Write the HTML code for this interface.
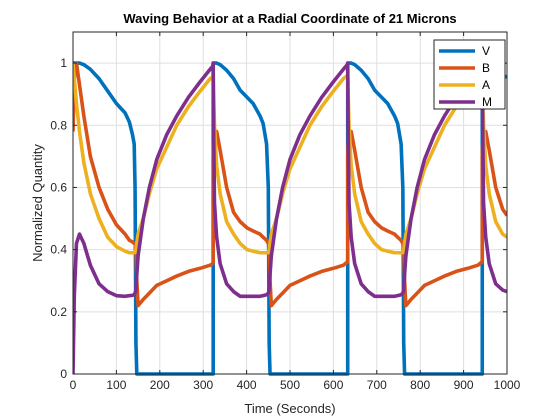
<!DOCTYPE html>
<html><head><meta charset="utf-8"><style>
html,body{margin:0;padding:0;background:#fff;}
svg{display:block;font-family:"Liberation Sans",Arial,sans-serif;}
</style></head><body>
<svg id="chart" width="560" height="420" viewBox="0 0 560 420"></svg>
<script>
const xTicks=[0,100,200,300,400,500,600,700,800,900,1000];
const yTicks=[0,0.2,0.4,0.6,0.8,1];
const yTickLabels=["0","0.2","0.4","0.6","0.8","1"];
const seriesNames=["V","B","A","M"];
const times=[0,3,8,15,25,40,60,80,100,120,130,137,141,143,145,147,150,162,176,193,216,239,266,293,316,322,
323,323,324,326,331,339,354,370,385,401,415,431,438,446,450,452,454,457,469,483,500,523,546,573,600,623,632,
633,633,634,636,641,649,664,680,695,711,725,741,748,756,760,762,764,767,779,793,810,833,856,883,910,933,942,
943,943,944,946,951,959,974,990,1000];
const vValues=[1,1,1,1,0.995,0.98,0.95,0.91,0.87,0.84,0.81,0.77,0.74,0.6,0.1,0,0,0,0,0,0,0,0,0,0,0,
0,1,1,1,1,0.995,0.977,0.95,0.913,0.89,0.87,0.83,0.806,0.74,0.6,0.1,0,0,0,0,0,0,0,0,0,0,0,
0,1,1,1,1,0.995,0.977,0.95,0.913,0.89,0.87,0.83,0.806,0.74,0.6,0.1,0,0,0,0,0,0,0,0,0,0,0,
0,1,1,1,1,0.995,0.977,0.96,0.955];
const bValues=[0.78,0.95,1.0,0.93,0.83,0.7,0.6,0.53,0.48,0.45,0.43,0.425,0.42,0.42,0.41,0.3,0.22,0.24,0.26,0.285,0.3,0.315,0.33,0.34,0.35,0.355,
0.36,0.7,0.74,0.77,0.78,0.72,0.6,0.52,0.49,0.47,0.46,0.45,0.44,0.43,0.42,0.41,0.3,0.22,0.24,0.26,0.285,0.3,0.315,0.33,0.34,0.35,0.36,
0.36,0.7,0.74,0.77,0.78,0.72,0.6,0.52,0.49,0.47,0.46,0.45,0.44,0.43,0.42,0.41,0.3,0.22,0.24,0.26,0.285,0.3,0.315,0.33,0.34,0.35,0.36,
0.36,0.7,0.74,0.77,0.78,0.72,0.6,0.53,0.51];
const aValues=[1.0,0.95,0.87,0.78,0.68,0.58,0.5,0.44,0.41,0.395,0.39,0.39,0.39,0.39,0.40,0.42,0.45,0.5,0.58,0.66,0.73,0.8,0.86,0.91,0.95,0.955,
0.96,0.96,0.9,0.8,0.67,0.58,0.49,0.45,0.42,0.40,0.395,0.39,0.39,0.39,0.39,0.40,0.42,0.45,0.5,0.58,0.66,0.73,0.8,0.86,0.91,0.95,0.96,
0.96,0.96,0.9,0.8,0.67,0.58,0.49,0.45,0.42,0.40,0.395,0.39,0.39,0.39,0.39,0.40,0.42,0.45,0.5,0.58,0.66,0.73,0.8,0.86,0.91,0.95,0.96,
0.96,0.96,0.9,0.8,0.67,0.58,0.49,0.45,0.44];
const mValues=[0,0.25,0.42,0.45,0.42,0.35,0.29,0.265,0.252,0.25,0.252,0.253,0.255,0.26,0.27,0.32,0.38,0.5,0.6,0.69,0.77,0.83,0.89,0.94,0.98,0.99,
1.0,1.0,0.8,0.55,0.44,0.355,0.29,0.265,0.25,0.25,0.25,0.25,0.252,0.255,0.26,0.27,0.32,0.38,0.5,0.6,0.69,0.77,0.83,0.89,0.94,0.98,0.995,
1.0,1.0,0.8,0.55,0.44,0.355,0.29,0.265,0.25,0.25,0.25,0.25,0.252,0.255,0.26,0.27,0.32,0.38,0.5,0.6,0.69,0.77,0.83,0.89,0.94,0.98,0.995,
1.0,1.0,0.8,0.55,0.44,0.355,0.29,0.27,0.265];

const L=73,R=507,T=32,B=374;
const X=v=>L+(v/1000)*(R-L);
const Y=v=>B-(v/1.1)*(B-T);
const NS="http://www.w3.org/2000/svg";
const svg=document.getElementById('chart');
function mk(tag,attrs,parent){const e=document.createElementNS(NS,tag);for(const k in attrs)e.setAttribute(k,attrs[k]);(parent||svg).appendChild(e);return e;}

const bg=mk('rect',{x:L,y:T,width:R-L,height:B-T,fill:'#fff'});


const grid=mk('g',{stroke:'#dfdfdf','stroke-width':1});


xTicks.forEach(t=>{mk('line',{x1:X(t),x2:X(t),y1:T,y2:B},grid);});
yTicks.forEach(t=>{mk('line',{x1:L,x2:R,y1:Y(t),y2:Y(t)},grid);});

const colors=["#0072BD","#D95319","#EDB120","#7E2F8E"];
const allVals=[vValues,bValues,aValues,mValues];
const clip=mk('clipPath',{id:'clp'});mk('rect',{x:L,y:T-2,width:R-L,height:B-T+4},clip);
allVals.forEach((vals,i)=>{
  const d=times.map((t,j)=>(j?'L':'M')+X(t).toFixed(2)+' '+Y(vals[j]).toFixed(2)).join(' ');
  const p=mk('path',{d:d,fill:'none',stroke:colors[i],'stroke-width':3.6,'stroke-linejoin':'round','clip-path':'url(#clp)'});
  
  
});

const axes=mk('g',{stroke:'#262626','stroke-width':1,fill:'none'});


mk('rect',{x:L,y:T,width:R-L,height:B-T},axes);
xTicks.forEach(t=>{mk('line',{x1:X(t),x2:X(t),y1:B,y2:B-4},axes);mk('line',{x1:X(t),x2:X(t),y1:T,y2:T+4},axes);});
yTicks.forEach(t=>{mk('line',{x1:L,x2:L+4,y1:Y(t),y2:Y(t)},axes);mk('line',{x1:R,x2:R-4,y1:Y(t),y2:Y(t)},axes);});

xTicks.forEach(t=>{const e=mk('text',{x:X(t),y:B+15,'text-anchor':'middle','font-size':12,fill:'#262626'});e.textContent=String(t);
  
  });
yTicks.forEach((t,i)=>{const e=mk('text',{x:L-6,y:Y(t)+4,'text-anchor':'end','font-size':12,fill:'#262626'});e.textContent=yTickLabels[i];
  
  });

const title=mk('text',{x:(L+R)/2,y:23,'text-anchor':'middle','font-size':13,'font-weight':'bold',fill:'#000'});
title.textContent='Waving Behavior at a Radial Coordinate of 21 Microns';


const xl=mk('text',{x:(L+R)/2,y:413,'text-anchor':'middle','font-size':13,fill:'#262626'});
xl.textContent='Time (Seconds)';


const yl=mk('text',{x:0,y:0,'text-anchor':'middle','font-size':13,fill:'#262626',transform:'translate(42,'+((T+B)/2)+') rotate(-90)'});
yl.textContent='Normalized Quantity';



const lg=mk('g',{});


mk('rect',{x:434,y:40,width:71,height:69,fill:'#fff',stroke:'#262626','stroke-width':1},lg);
seriesNames.forEach((n,i)=>{
  const yy=51+i*17;
  const ln=mk('line',{x1:439,x2:475,y1:yy,y2:yy,stroke:colors[i],'stroke-width':3.6},lg);
  
  
  const tx=mk('text',{x:482,y:yy+4,'font-size':12,fill:'#000'},lg);
  tx.textContent=n;
  
  
});
</script>
</body></html>
